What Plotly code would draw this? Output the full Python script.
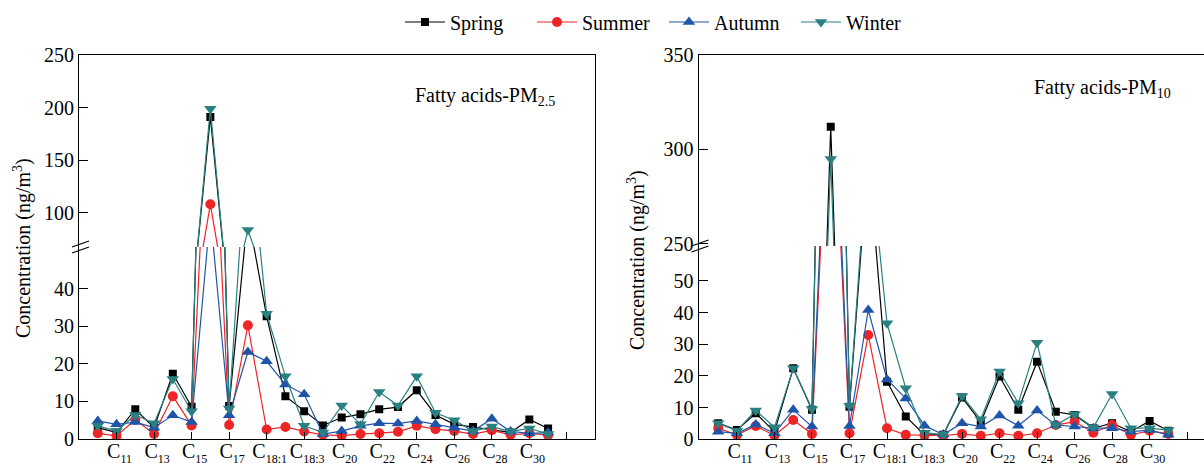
import plotly.graph_objects as go

categories = ["C10", "C11", "C12", "C13", "C14", "C15", "C16", "C17", "C18",
              "C18:1", "C18:2", "C18:3", "C19", "C20", "C21", "C22", "C23",
              "C24", "C25", "C26", "C27", "C28", "C29", "C30", "C31"]
labelled = ["C11", "C13", "C15", "C17", "C18:1", "C18:3", "C20", "C22",
            "C24", "C26", "C28", "C30"]

# PM2.5 (ng/m3)
spring25 = [2.9, 1.6, 7.8, 2.9, 17.3, 8.5, 191, 8.7, 60, 32.6, 11.3, 7.3, 3.5,
            5.6, 6.5, 7.8, 8.4, 12.9, 6.3, 3.8, 3.1, 2.5, 1.6, 5.1, 2.7]
summer25 = [1.4, 0.7, 5.0, 1.2, 11.3, 3.5, 108, 3.6, 30.2, 2.4, 3.1, 1.9, 1.0,
            0.8, 1.2, 1.4, 1.8, 3.4, 2.5, 2.0, 1.2, 2.2, 1.0, 1.4, 0.9]
autumn25 = [4.7, 3.8, 4.4, 2.9, 6.2, 4.4, 60, 6.2, 23.1, 20.6, 14.4, 11.8, 1.2,
            2.0, 3.4, 4.1, 4.0, 4.7, 3.8, 2.9, 2.0, 5.3, 1.9, 1.4, 1.6]
winter25 = [3.4, 2.0, 6.3, 4.1, 15.9, 7.3, 199, 8.0, 83.5, 33.3, 16.6, 3.4, 1.6,
            8.8, 3.8, 12.4, 8.8, 16.6, 6.9, 4.9, 2.0, 3.2, 1.9, 2.7, 1.2]

# PM10 (ng/m3)
spring10 = [5.1, 2.9, 8.2, 2.4, 22.4, 9.3, 312, 10.3, 90, 18.2, 7.2, 1.4, 1.4,
            13.2, 5.4, 19.8, 9.3, 24.5, 8.7, 7.7, 3.5, 5.1, 2.4, 5.8, 2.7]
summer10 = [3.5, 1.4, 4.2, 1.2, 6.1, 1.7, 130, 1.9, 32.9, 3.5, 1.4, 1.4, 1.2,
            1.7, 1.1, 1.9, 1.1, 1.9, 4.5, 5.6, 2.1, 4.5, 1.4, 2.7, 1.7]
autumn10 = [2.4, 1.9, 4.7, 1.9, 9.3, 4.0, 140, 4.2, 40.8, 18.9, 12.9, 4.3, 1.5,
            5.1, 4.0, 7.5, 4.3, 9.1, 4.5, 4.0, 3.5, 3.5, 2.4, 2.9, 1.4]
winter10 = [5.1, 2.7, 9.1, 3.8, 22.4, 9.6, 295, 10.6, 95, 36.6, 16.1, 2.1, 1.5,
            13.7, 6.3, 21.4, 11.4, 30.5, 4.5, 7.9, 3.7, 14.3, 3.5, 3.5, 2.9]

seasons = ["Spring", "Summer", "Autumn", "Winter"]
colors = ["#000000", "#EE2526", "#1F55A8", "#2A8080"]
symbols = ["square", "circle", "triangle-up", "triangle-down"]
sizes = [8, 10, 11, 11]

W, H = 1204, 463
FONT = "Liberation Serif"


def px(x):
    return x / W


def py(y):
    return (H - y) / H


xs = list(range(1, len(categories) + 1))


def cat_label(c):
    return ("C<sub><span style='font-size:12px'>" + c[1:] +
            "</span></sub>")


tickvals = [0] + [categories.index(c) + 1 for c in labelled] + [26]
ticktext = [""] + [cat_label(c) for c in labelled] + [""]

fig = go.Figure()

panels = [
    (spring25, summer25, autumn25, winter25),
    (spring10, summer10, autumn10, winter10),
]
axes_pairs = [("x", "y"), ("x2", "y2"), ("x3", "y3"), ("x4", "y4")]

for p, data in enumerate(panels):
    for seg in range(2):
        xa, ya = axes_pairs[p * 2 + seg]
        for i, vals in enumerate(data):
            fig.add_trace(go.Scatter(
                x=xs, y=vals, xaxis=xa, yaxis=ya,
                mode="lines+markers", name=seasons[i],
                legendgroup=seasons[i],
                showlegend=(p == 0 and seg == 0),
                line=dict(color=colors[i], width=1.2),
                marker=dict(color=colors[i], symbol=symbols[i], size=sizes[i],
                            line=dict(width=0)),
            ))

# geometry (px)
L1, R1 = 79, 595
L2, R2 = 698.5, 1204
TOP, BOT = 55, 439.3
BRK1, BRK2 = 247, 246

axfont = dict(family=FONT, size=20, color="black")
common_y = dict(showgrid=False, zeroline=False, showline=True, linecolor="black",
                linewidth=1.2, ticks="inside", ticklen=9, tickwidth=1.2,
                tickcolor="black", tickfont=axfont, automargin=False)
common_xb = dict(showgrid=False, zeroline=False, showline=True, linecolor="black",
                 linewidth=1.2, ticks="inside", ticklen=7, tickwidth=1.2,
                 tickcolor="black", tickvals=tickvals, ticktext=ticktext,
                 tickfont=dict(family=FONT, size=20, color="black"),
                 tickangle=0, automargin=False, ticklabelshift=3,
                 ticklabelstandoff=-6)
common_xt = dict(side="top", showgrid=False, zeroline=False, showline=True,
                 linecolor="black", linewidth=1.2, ticks="",
                 showticklabels=False, automargin=False)

layout = dict(
    template="none",
    width=W, height=H,
    margin=dict(l=0, r=0, t=0, b=0, autoexpand=False),
    paper_bgcolor="white", plot_bgcolor="white",
    showlegend=True,
    legend=dict(orientation="h", x=px(400), y=py(22), xanchor="left",
                yanchor="middle", font=dict(family=FONT, size=20, color="black"),
                itemwidth=40, entrywidth=77, entrywidthmode="pixels",
                bgcolor="rgba(0,0,0,0)"),
    xaxis=dict(domain=[px(L1), px(R1)], range=[0, 27.5], anchor="y", **common_xb),
    yaxis=dict(domain=[py(BOT), py(BRK1)], range=[-0.2, 51.1], anchor="x",
               tickvals=[0, 10, 20, 30, 40], mirror=True, **common_y),
    xaxis2=dict(domain=[px(L1), px(R1)], range=[0, 27.5], anchor="y2", **common_xt),
    yaxis2=dict(domain=[py(BRK1), py(TOP)], range=[67.4, 250], anchor="x2",
                tickvals=[100, 150, 200, 250], mirror=True, **common_y),
    xaxis3=dict(domain=[px(L2), px(R2)], range=[-0.05, 26.9], anchor="y3", **common_xb),
    yaxis3=dict(domain=[py(BOT), py(BRK2)], range=[0, 61], anchor="x3",
                tickvals=[0, 10, 20, 30, 40, 50], **common_y),
    xaxis4=dict(domain=[px(L2), px(R2)], range=[-0.05, 26.9], anchor="y4", **common_xt),
    yaxis4=dict(domain=[py(BRK2), py(TOP)], range=[248.9, 350], anchor="x4",
                tickvals=[250, 300, 350], **common_y),
)
fig.update_layout(**layout)

ann = [
    dict(text="Fatty acids-PM<sub>2.5</sub>", x=px(485), y=py(96)),
    dict(text="Fatty acids-PM<sub>10</sub>", x=px(1102), y=py(88)),
]
for a in ann:
    fig.add_annotation(xref="paper", yref="paper", showarrow=False,
                       xanchor="center", yanchor="middle",
                       font=dict(family=FONT, size=20, color="black"), **a)

for tx, ty in [(22, 248), (636, 260)]:
    fig.add_annotation(xref="paper", yref="paper", x=px(tx), y=py(ty),
                       text="Concentration (ng/m<sup>3</sup>)", textangle=-90,
                       showarrow=False, xanchor="center", yanchor="middle",
                       font=dict(family=FONT, size=20, color="black"))

# axis break marks
for ax_x, by in [(L1, BRK1), (L2, BRK2)]:
    for off in (-3, 3):
        fig.add_shape(type="line", xref="paper", yref="paper",
                      x0=px(ax_x - 7), y0=py(by + off + 3),
                      x1=px(ax_x + 10), y1=py(by + off - 3),
                      line=dict(color="black", width=1.2))

fig.write_html("out.html", config={"displayModeBar": False},
               post_script="document.body.style.margin='0';"
                           "document.body.style.overflow='hidden';")
